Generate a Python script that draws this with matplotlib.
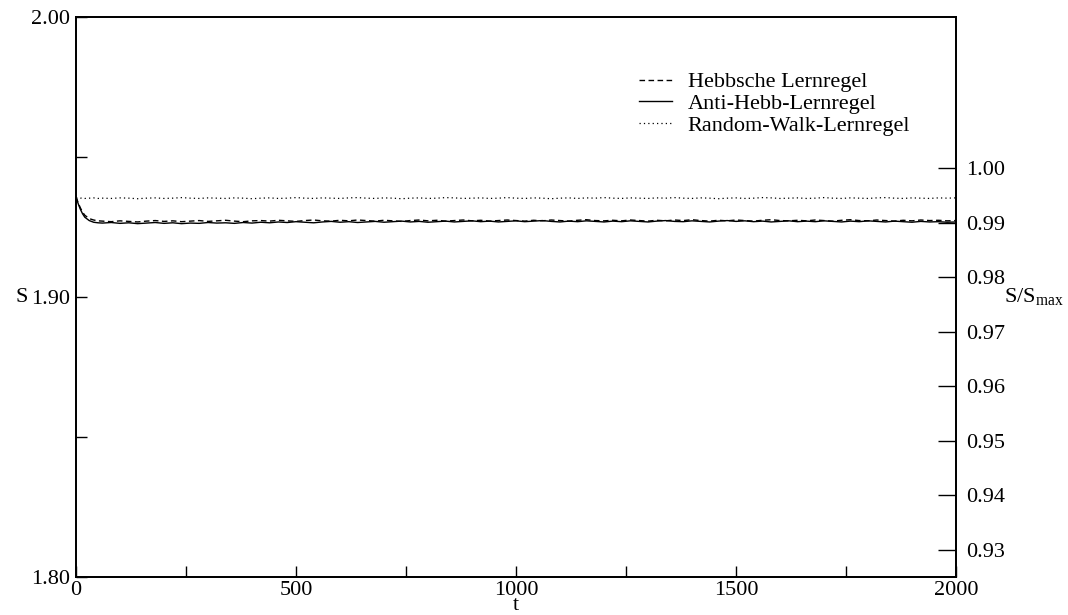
import numpy as np
import matplotlib
matplotlib.use("Agg")
import matplotlib.pyplot as plt

plt.rcParams['font.family'] = ['Liberation Serif', 'DejaVu Serif']
plt.rcParams['mathtext.fontset'] = 'custom'
plt.rcParams['mathtext.rm'] = 'Liberation Serif'

# maximale Entropie (7 Zustaende)
S_MAX = np.log(7)

t = [0, 5, 10, 15, 20, 30, 40, 50] + list(range(60, 2001, 20))

hebb = [1.9358, 1.9336, 1.9318, 1.9303, 1.9292, 1.9280, 1.9275, 1.9272,
        1.9271, 1.9269, 1.9272, 1.9270, 1.9268, 1.9271, 1.9273, 1.9270, 1.9272, 1.9269,
        1.9271, 1.9273, 1.9270, 1.9272, 1.9274, 1.9271, 1.9269, 1.9272, 1.9273, 1.9271,
        1.9274, 1.9272, 1.9270, 1.9273, 1.9275, 1.9272, 1.9271, 1.9274, 1.9272, 1.9275,
        1.9273, 1.9271, 1.9274, 1.9272, 1.9270, 1.9273, 1.9275, 1.9272, 1.9274, 1.9271,
        1.9273, 1.9275, 1.9272, 1.9274, 1.9271, 1.9273, 1.9275, 1.9273, 1.9271, 1.9274,
        1.9272, 1.9275, 1.9273, 1.9271, 1.9274, 1.9276, 1.9273, 1.9272, 1.9274, 1.9272,
        1.9275, 1.9273, 1.9271, 1.9274, 1.9272, 1.9275, 1.9273, 1.9276, 1.9273, 1.9271,
        1.9274, 1.9272, 1.9275, 1.9273, 1.9271, 1.9274, 1.9276, 1.9273, 1.9272, 1.9274,
        1.9272, 1.9275, 1.9273, 1.9271, 1.9274, 1.9276, 1.9273, 1.9272, 1.9275, 1.9273,
        1.9271, 1.9274, 1.9272, 1.9275, 1.9273, 1.9274, 1.9272, 1.9273]

anti = [1.9358, 1.9333, 1.9313, 1.9297, 1.9285, 1.9273, 1.9267, 1.9265,
        1.9264, 1.9266, 1.9263, 1.9265, 1.9262, 1.9264, 1.9266, 1.9263, 1.9265, 1.9262,
        1.9264, 1.9263, 1.9266, 1.9264, 1.9265, 1.9263, 1.9266, 1.9264, 1.9267, 1.9265,
        1.9268, 1.9266, 1.9269, 1.9267, 1.9265, 1.9268, 1.9270, 1.9267, 1.9269, 1.9266,
        1.9268, 1.9270, 1.9267, 1.9269, 1.9271, 1.9268, 1.9270, 1.9267, 1.9269, 1.9271,
        1.9268, 1.9270, 1.9272, 1.9269, 1.9271, 1.9268, 1.9270, 1.9272, 1.9269, 1.9271,
        1.9273, 1.9270, 1.9268, 1.9271, 1.9269, 1.9272, 1.9270, 1.9268, 1.9271, 1.9269,
        1.9272, 1.9270, 1.9268, 1.9271, 1.9273, 1.9270, 1.9269, 1.9272, 1.9270, 1.9268,
        1.9271, 1.9273, 1.9270, 1.9272, 1.9269, 1.9271, 1.9268, 1.9270, 1.9272, 1.9269,
        1.9271, 1.9269, 1.9272, 1.9270, 1.9268, 1.9271, 1.9269, 1.9272, 1.9270, 1.9268,
        1.9271, 1.9269, 1.9267, 1.9270, 1.9268, 1.9269, 1.9267, 1.9268]

random_walk = [1.9355, 1.9354, 1.9353, 1.9354, 1.9352, 1.9353, 1.9354, 1.9352,
               1.9353, 1.9352, 1.9354, 1.9353, 1.9351, 1.9353, 1.9354, 1.9352, 1.9353, 1.9355,
               1.9353, 1.9352, 1.9354, 1.9353, 1.9352, 1.9354, 1.9353, 1.9351, 1.9353, 1.9354,
               1.9352, 1.9353, 1.9355, 1.9353, 1.9352, 1.9354, 1.9353, 1.9352, 1.9354, 1.9355,
               1.9353, 1.9352, 1.9354, 1.9353, 1.9351, 1.9353, 1.9354, 1.9352, 1.9353, 1.9355,
               1.9354, 1.9352, 1.9353, 1.9354, 1.9352, 1.9353, 1.9355, 1.9353, 1.9352, 1.9354,
               1.9353, 1.9351, 1.9353, 1.9354, 1.9352, 1.9354, 1.9353, 1.9355, 1.9353, 1.9352,
               1.9354, 1.9353, 1.9352, 1.9354, 1.9353, 1.9355, 1.9353, 1.9352, 1.9354, 1.9353,
               1.9351, 1.9353, 1.9354, 1.9352, 1.9353, 1.9355, 1.9354, 1.9352, 1.9353, 1.9354,
               1.9352, 1.9353, 1.9355, 1.9353, 1.9352, 1.9354, 1.9353, 1.9352, 1.9354, 1.9355,
               1.9353, 1.9352, 1.9354, 1.9353, 1.9352, 1.9354, 1.9353, 1.9354]

x_ticks = [0, 500, 1000, 1500, 2000]
y_ticks = [1.80, 1.90, 2.00]
ratio_ticks = [0.93, 0.94, 0.95, 0.96, 0.97, 0.98, 0.99, 1.00]

fig = plt.figure(figsize=(10.68, 6.15), dpi=100)
ax = fig.add_axes([76 / 1068, 1 - 577 / 615, (956 - 76) / 1068, (577 - 17) / 615])

ax.plot(t, hebb, color='black', lw=1.0, ls=(0, (4, 2.5)), label='Hebbsche Lernregel')
ax.plot(t, anti, color='black', lw=1.0, ls='-', label='Anti-Hebb-Lernregel')
ax.plot(t, random_walk, color='black', lw=0.9, ls=(0, (1, 2.5)), label='Random-Walk-Lernregel')

ax.set_xlim(0, 2000)
ax.set_ylim(1.80, 2.00)
ax.set_xticks(x_ticks)
ax.set_xticks(np.arange(250, 2000, 500), minor=True)
ax.set_yticks(y_ticks)
ax.set_yticks([1.85, 1.95], minor=True)
ax.set_yticklabels(['%.2f' % v for v in y_ticks])
ax.tick_params(which='both', direction='in', length=8, width=1, labelsize=16,
               top=False, right=False)
ax.tick_params(axis='y', pad=4)
ax.tick_params(axis='x', pad=3)
for sp in ax.spines.values():
    sp.set_linewidth(1.3)

ax.set_xlabel('t', fontsize=16, va='bottom')
ax.xaxis.set_label_coords(0.5, -37.5 / 560)
ax.set_ylabel('S', fontsize=16, rotation=0, va='center', ha='right')
ax.yaxis.set_label_coords(-0.0545, 0.5)

ax2 = ax.twinx()
ax2.set_ylim(1.80 / S_MAX, 2.00 / S_MAX)
ax2.set_yticks(ratio_ticks)
ax2.set_yticklabels(['%.2f' % v for v in ratio_ticks])
ax2.tick_params(direction='in', length=13, width=1, labelsize=16, pad=7)
for sp in ax2.spines.values():
    sp.set_linewidth(1.3)
ax2.set_ylabel(r'S/S$_{\rm max}$', fontsize=16, rotation=0, va='center', ha='left')
ax2.yaxis.set_label_coords(1.054, 0.5)

ax.legend(loc='upper right', bbox_to_anchor=(0.948, 0.902), frameon=False,
          fontsize=16, handlelength=1.5, handletextpad=0.7, labelspacing=0.05,
          borderpad=0, borderaxespad=0)

fig.savefig('out.png', dpi=100)
